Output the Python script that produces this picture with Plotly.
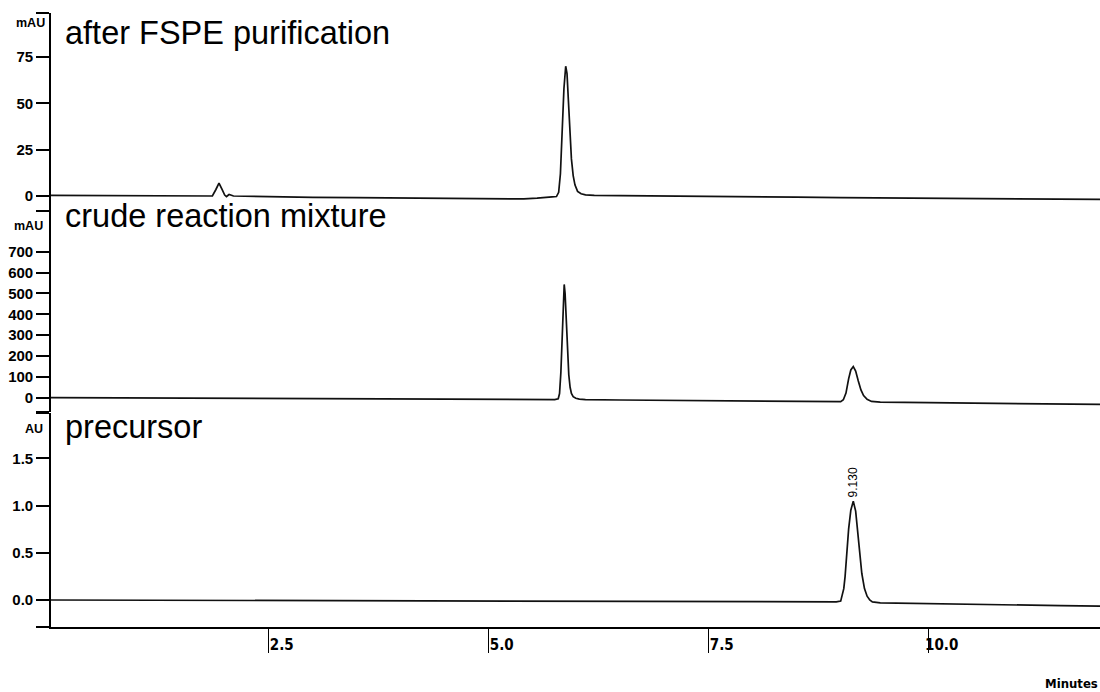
import plotly.graph_objects as go

# ---------------- data ----------------
# Panel 1: after FSPE purification (mAU)
t_fspe = [0.0, 0.5, 1.0, 1.5, 1.8, 1.86, 1.9, 1.935, 1.97, 2.0, 2.02, 2.05, 2.1, 2.5, 3.0,
          3.5, 4.0, 4.5, 5.0, 5.4, 5.55, 5.65, 5.72, 5.77, 5.795, 5.815, 5.835, 5.855, 5.875, 5.89,
          5.905, 5.92, 5.94, 5.96, 5.98, 6.01, 6.05, 6.1, 6.2, 6.5, 7.0, 7.5, 8.0, 8.5, 9.0,
          9.5, 10.0, 10.5, 11.0, 11.5, 11.95]
mau_fspe = [0.3, 0.2, 0.0, -0.2, -0.3, 0.0, 3.5, 6.9, 3.5, 0.5, -0.3, 0.8, 0.0, -0.4, -0.7,
            -0.9, -1.1, -1.3, -1.5, -1.6, -1.2, -0.6, -0.5, -0.3, 2.0, 12, 35, 58, 70, 66,
            52, 36, 20, 11, 6, 2.5, 1.2, 0.6, 0.3, 0.2, 0.1, -0.1, -0.4, -0.6, -0.9,
            -1.1, -1.3, -1.4, -1.5, -1.7, -1.8]

# Panel 2: crude reaction mixture (mAU)
t_crude = [0.0, 1.0, 2.0, 3.0, 4.0, 5.0, 5.5, 5.75, 5.79, 5.805, 5.82, 5.835, 5.848, 5.858, 5.868,
           5.88, 5.895, 5.91, 5.925, 5.94, 5.96, 5.99, 6.03, 6.1, 6.5, 7.0, 7.5, 8.0, 8.5, 8.9,
           9.0, 9.03, 9.06, 9.09, 9.115, 9.143, 9.17, 9.2, 9.23, 9.26, 9.3, 9.35, 9.45, 10.0, 10.5,
           11.0, 11.5, 11.95]
mau_crude = [0, -2, -4, -6, -8, -10, -10, -9, -5, 20, 120, 300, 470, 543, 500,
             380, 220, 110, 50, 20, 5, -3, -7, -9, -11, -13, -15, -17, -19, -20,
             -19, -10, 22, 90, 133, 149, 128, 80, 37, 10, -8, -18, -21, -24, -26,
             -28, -30, -32]

# Panel 3: precursor (AU)
t_prec = [0.0, 1.0, 2.0, 3.0, 4.0, 5.0, 6.0, 7.0, 8.0, 8.7, 8.95, 9.0, 9.02, 9.035, 9.05,
          9.07, 9.09, 9.115, 9.143, 9.17, 9.19, 9.21, 9.24, 9.27, 9.3, 9.33, 9.36, 9.45, 10.0, 10.5,
          11.0, 11.5, 11.95]
au_prec = [0.0, -0.003, -0.005, -0.008, -0.01, -0.012, -0.014, -0.016, -0.018, -0.019, -0.02, -0.012, 0.05, 0.12, 0.25,
           0.53, 0.75, 0.95, 1.046, 0.94, 0.74, 0.54, 0.28, 0.12, 0.04, 0.0, -0.02, -0.03, -0.04, -0.048,
           -0.055, -0.06, -0.065]

panel_titles = ["after FSPE purification", "crude reaction mixture", "precursor"]
unit_labels = ["mAU", "mAU", "AU"]
peak_label = "9.130"

x_tickvals = [2.5, 5.0, 7.5, 10.0]
x_ticktext = ["2.5", "5.0", "7.5", "10.0"]
y1_tickvals = [0, 25, 50, 75]
y1_ticktext = ["0", "25", "50", "75"]
y2_tickvals = [0, 100, 200, 300, 400, 500, 600, 700]
y2_ticktext = ["0", "100", "200", "300", "400", "500", "600", "700"]
y3_tickvals = [0.0, 0.5, 1.0, 1.5]
y3_ticktext = ["0.0", "0.5", "1.0", "1.5"]

# ---------------- figure ----------------
W, H = 1100, 692
AX_PX = 51.0                 # pixel column of the y axes
PX_PER_MIN = 88.0
T0_PX = 48.7                 # pixel column of t = 0
X0 = AX_PX / W
xrange = [(AX_PX - T0_PX) / PX_PER_MIN, (W - T0_PX) / PX_PER_MIN]
r1 = [-8.1, 98.7]
r2 = [-68.6, 895]
r3 = [-0.286, 1.979]

line = dict(color="#111111", width=1.7)
fig = go.Figure()
fig.add_trace(go.Scatter(x=t_fspe, y=mau_fspe, xaxis="x", yaxis="y", mode="lines", line=line, showlegend=False))
fig.add_trace(go.Scatter(x=t_crude, y=mau_crude, xaxis="x", yaxis="y2", mode="lines", line=line, showlegend=False))
fig.add_trace(go.Scatter(x=t_prec, y=au_prec, xaxis="x", yaxis="y3", mode="lines", line=line, showlegend=False))

tickfont = dict(family="Liberation Sans, Arial, sans-serif", size=15, color="black", weight="bold")


def yax(domain, rng, vals, text):
    return dict(
        domain=domain, range=rng, anchor="x",
        tickvals=list(vals) + [rng[0], rng[1]],
        ticktext=list(text) + ["", ""],
        ticks="outside", ticklen=13, tickwidth=1.5, tickcolor="black",
        showline=True, linecolor="black", linewidth=1.6,
        showgrid=False, zeroline=False, tickfont=tickfont, fixedrange=True,
    )


def py(pix):
    return 1 - pix / H


fig.update_layout(
    width=W, height=H,
    margin=dict(l=0, r=0, t=0, b=0),
    paper_bgcolor="white", plot_bgcolor="white",
    xaxis=dict(
        domain=[X0, 1], range=xrange, anchor="y3",
        tickvals=x_tickvals, ticktext=x_ticktext,
        ticks="outside", ticklen=24, tickwidth=1.3, tickcolor="black",
        ticklabelshift=13, ticklabelstandoff=-21,
        showline=True, linecolor="black", linewidth=1.6,
        showgrid=False, zeroline=False, fixedrange=True,
        tickfont=dict(family="Liberation Sans Narrow, DejaVu Sans Condensed, Liberation Sans", size=15,
                      color="black", weight="bold"),
    ),
    yaxis=yax([py(211), py(13)], r1, y1_tickvals, y1_ticktext),
    yaxis2=yax([py(412), py(211)], r2, y2_tickvals, y2_ticktext),
    yaxis3=yax([py(627), py(413)], r3, y3_tickvals, y3_ticktext),
)

title_font = dict(family="Liberation Sans, Arial, sans-serif", size=32.5, color="black")
title_y = [33, 216, 427]
for txt, yy in zip(panel_titles, title_y):
    fig.add_annotation(text=txt, xref="paper", yref="paper", x=63 / W, y=py(yy),
                       xanchor="left", yanchor="middle", showarrow=False, font=title_font)

unit_font = dict(family="Liberation Sans Narrow, Liberation Sans, Arial", size=12.5, color="black", weight="bold")
unit_pos = [(30.5, 23), (28, 226), (34, 429)]
for txt, (ux, uy) in zip(unit_labels, unit_pos):
    fig.add_annotation(text=txt, xref="paper", yref="paper", x=ux / W, y=py(uy),
                       xanchor="center", yanchor="middle", showarrow=False, font=unit_font)

# retention-time label of the precursor peak
ipk = au_prec.index(max(au_prec))
fig.add_annotation(text=peak_label, x=t_prec[ipk], y=au_prec[ipk], xref="x", yref="y3",
                   xanchor="center", yanchor="middle", yshift=19, textangle=-90, showarrow=False,
                   font=dict(family="Liberation Sans Narrow, Liberation Sans, Arial", size=12, color="black"))

fig.add_annotation(text="Minutes", xref="paper", yref="paper", x=1.0, y=py(683),
                   xanchor="right", yanchor="middle", showarrow=False,
                   font=dict(family="Liberation Sans Narrow, DejaVu Sans Condensed, Liberation Sans", size=13,
                             color="black", weight="bold"))

fig.write_html("out.html", config={"displayModeBar": False},
               post_script="document.body.style.margin='0';document.body.style.overflow='hidden';")
